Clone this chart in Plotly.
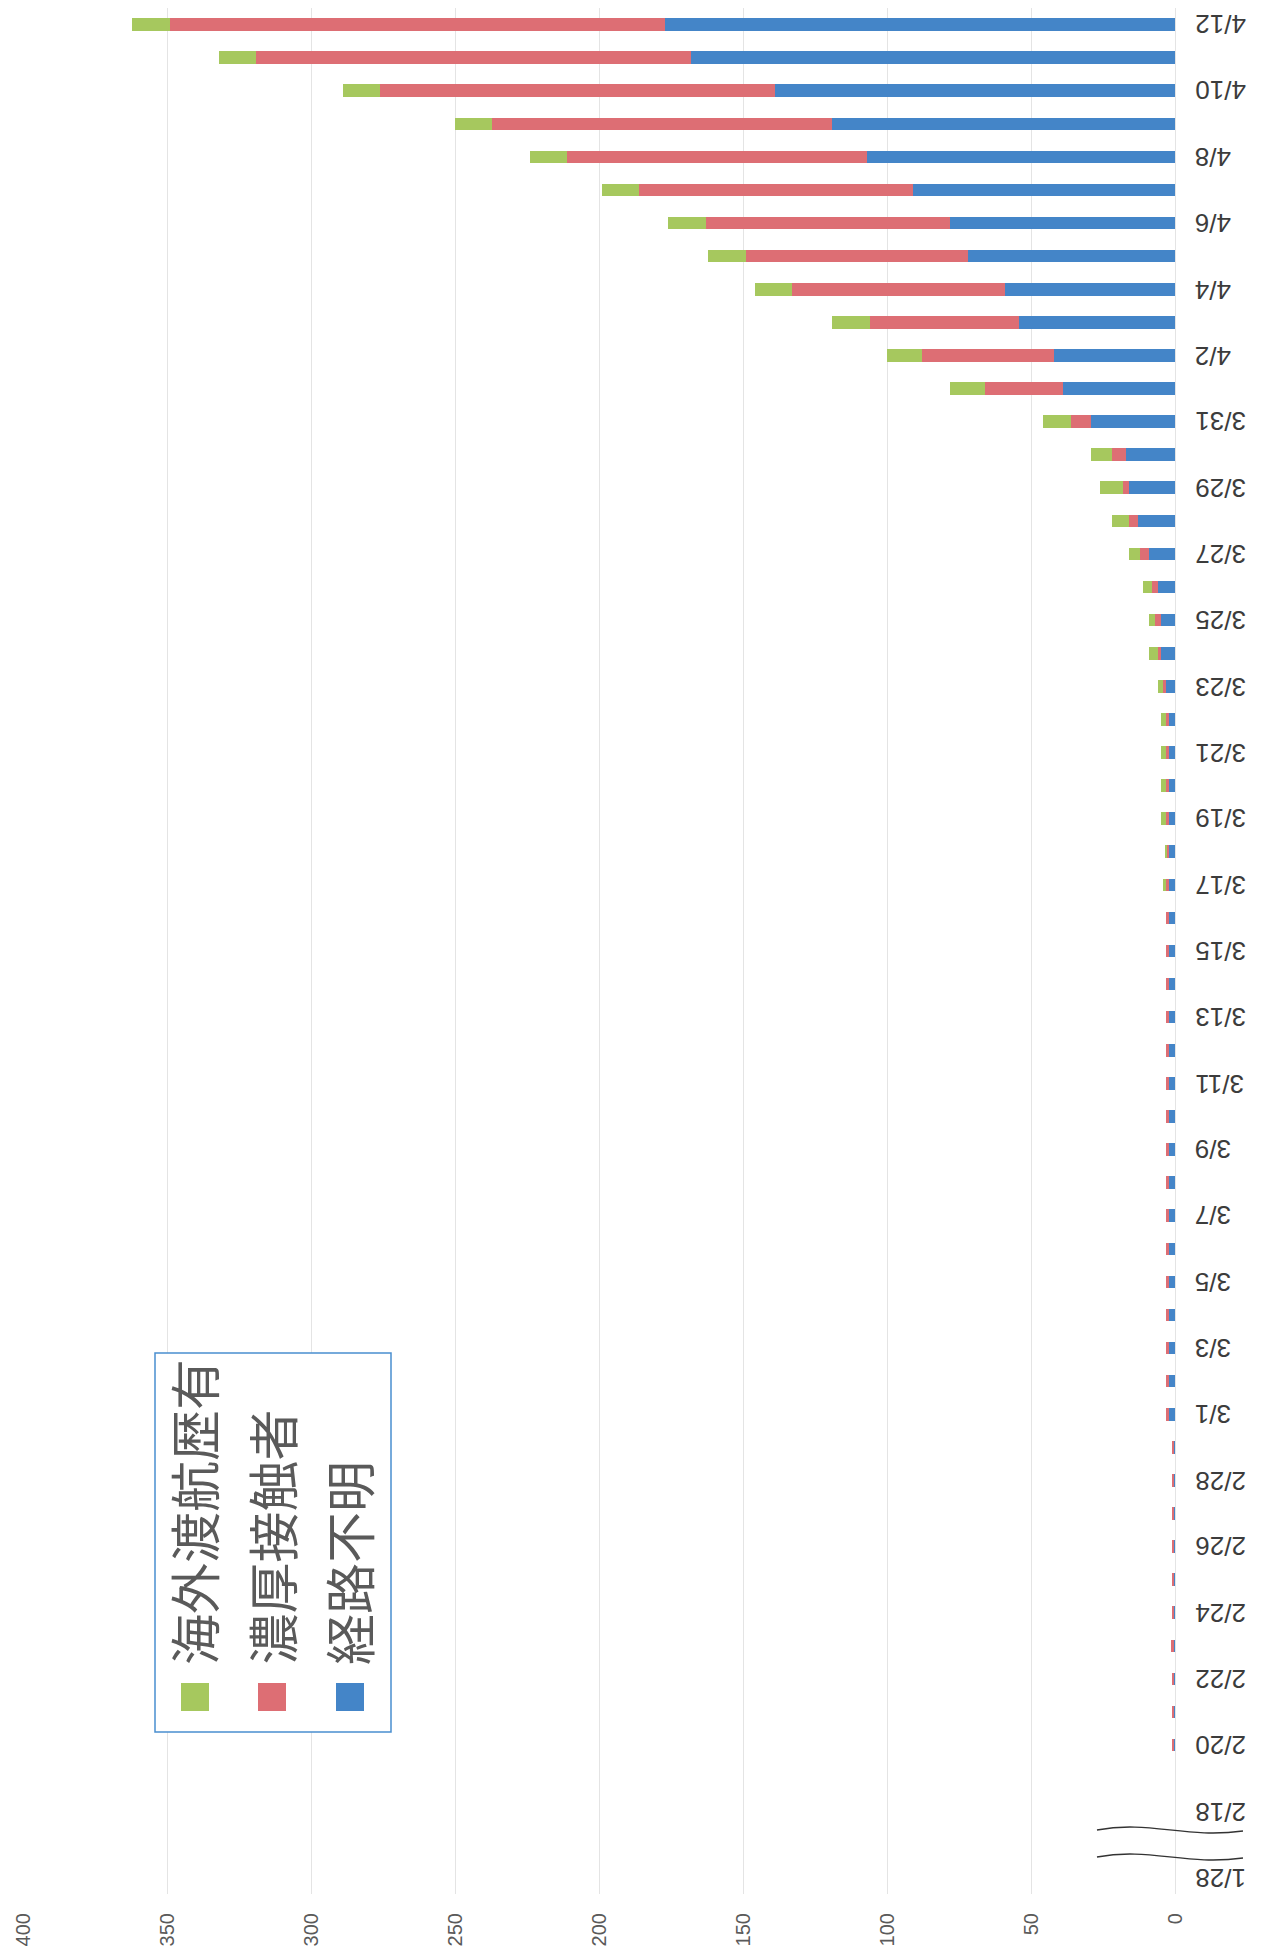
import plotly.graph_objects as go

# categories (blank slot between 1/28 and 2/18 is the broken part of the axis)
dates = ["1/28", " ",
         "2/18", "2/19", "2/20", "2/21", "2/22", "2/23", "2/24", "2/25", "2/26",
         "2/27", "2/28", "2/29",
         "3/1", "3/2", "3/3", "3/4", "3/5", "3/6", "3/7", "3/8", "3/9", "3/10",
         "3/11", "3/12", "3/13", "3/14", "3/15", "3/16", "3/17", "3/18", "3/19",
         "3/20", "3/21", "3/22", "3/23", "3/24", "3/25", "3/26", "3/27", "3/28",
         "3/29", "3/30", "3/31",
         "4/1", "4/2", "4/3", "4/4", "4/5", "4/6", "4/7", "4/8", "4/9", "4/10",
         "4/11", "4/12"]

# 経路不明 (blue)
unknown = [0, 0,
           0, 0, 0.5, 0.5, 0.5, 0.5, 0.5, 0.5, 0.5,
           0.5, 0.5, 0.5,
           2, 2, 2, 2, 2, 2, 2, 2, 2, 2,
           2, 2, 2, 2, 2, 2, 2, 2, 2,
           2, 2, 2, 3, 5, 5, 6, 9, 13,
           16, 17, 29,
           39, 42, 54, 59, 72, 78, 91, 107, 119, 139,
           168, 177]

# 濃厚接触者 (red)
contact = [0, 0,
           0, 0, 0.6, 0.6, 0.6, 1, 0.6, 0.6, 0.6,
           0.6, 0.6, 0.6,
           1, 1, 1, 1, 1, 1, 1, 1, 1, 1,
           1, 1, 1, 1, 1, 1, 1, 1, 1,
           1, 1, 1, 1, 1, 2, 2, 3, 3,
           2, 5, 7,
           27, 46, 52, 74, 77, 85, 95, 104, 118, 137,
           151, 172]

# 海外渡航歴有 (green)
overseas = [0, 0,
            0, 0, 0, 0, 0, 0, 0, 0, 0,
            0, 0, 0,
            0, 0, 0, 0, 0, 0, 0, 0, 0, 0,
            0, 0, 0, 0, 0, 0, 1, 0.5, 2,
            2, 2, 2, 2, 3, 2, 3, 4, 6,
            8, 7, 10,
            12, 12, 13, 13, 13, 13, 13, 13, 13, 13,
            13, 13]

series_names = ["海外渡航歴有", "濃厚接触者", "経路不明"]
series_colors = ["#A6C85E", "#DD6E74", "#4485C8"]
date_labels = dates[0::2]

W, H = 1263, 1958
SHIFT = 8             # the page body margin moves the figure by this much
SX0, SX1 = 23, 1175   # plot area left / right on screen
SY0, SY1 = 8, 1894    # plot area top / bottom on screen


def px(x):
    return (x - SX0) / (SX1 - SX0)


def py(y):
    return (SY1 - y) / (SY1 - SY0)


fig = go.Figure()
for vals, name, col in [(unknown, series_names[2], series_colors[2]),
                        (contact, series_names[1], series_colors[1]),
                        (overseas, series_names[0], series_colors[0])]:
    fig.add_trace(go.Bar(y=dates, x=vals, name=name, orientation="h",
                         marker=dict(color=col, line=dict(width=0))))

shapes = []
annotations = []

# date labels, upside down like the scan
for d in date_labels:
    annotations.append(dict(text=d, xref="paper", yref="y", x=px(1193), y=d,
                            xanchor="left", yanchor="middle", textangle=180,
                            showarrow=False,
                            font=dict(family="Liberation Sans", size=26, color="#3C3C3C")))

# legend box drawn by hand so the text can be turned
shapes.append(dict(type="rect", xref="paper", yref="paper",
                   x0=px(155), x1=px(391), y0=py(1732), y1=py(1353),
                   line=dict(color="#4A8FD0", width=1.5), fillcolor="white",
                   layer="above"))
legend_x = [195, 272, 350]
for i, (name, col) in enumerate(zip(series_names, series_colors)):
    cx = legend_x[i]
    shapes.append(dict(type="rect", xref="paper", yref="paper",
                       x0=px(cx - 14), x1=px(cx + 14), y0=py(1711), y1=py(1683),
                       line=dict(width=0), fillcolor=col, layer="above"))
    annotations.append(dict(text=name, xref="paper", yref="paper",
                            x=px(cx - 2), y=py(1667), xanchor="center", yanchor="bottom",
                            textangle=-90, showarrow=False,
                            font=dict(family="Noto Sans CJK JP", size=51, color="#5A5A5A")))

# axis break marks between 1/28 and 2/18
for dy in (0, 27):
    y0 = 1830 + dy
    path = "M {:.5f} {:.5f} C {:.5f} {:.5f}, {:.5f} {:.5f}, {:.5f} {:.5f}".format(
        px(1097), py(y0), px(1150), py(y0 - 10), px(1185), py(y0 + 9), px(1243), py(y0 + 1))
    shapes.append(dict(type="path", xref="paper", yref="paper", path=path,
                       line=dict(color="#333333", width=1.3)))

fig.update_layout(
    width=W, height=H,
    margin=dict(l=SX0 - SHIFT, r=W - (SX1 - SHIFT), t=SY0 - SHIFT, b=H - (SY1 - SHIFT),
                autoexpand=False),
    barmode="stack", bargap=0.62,
    plot_bgcolor="white", paper_bgcolor="white",
    showlegend=False,
    shapes=shapes, annotations=annotations,
    xaxis=dict(range=[400, 0], dtick=50, tickangle=-90, automargin=False,
               showgrid=True, gridcolor="#E4E4E4", gridwidth=1,
               zeroline=True, zerolinecolor="#E4E4E4", zerolinewidth=1,
               showline=False, ticks="", ticklabelstandoff=14,
               tickfont=dict(family="Liberation Sans", size=20, color="#5A5A5A")),
    yaxis=dict(type="category", categoryorder="array", categoryarray=dates,
               range=[-0.5, len(dates) - 0.5], automargin=False,
               showticklabels=False,
               showgrid=False, zeroline=False, showline=False, ticks=""),
)

fig.write_html("out.html")
